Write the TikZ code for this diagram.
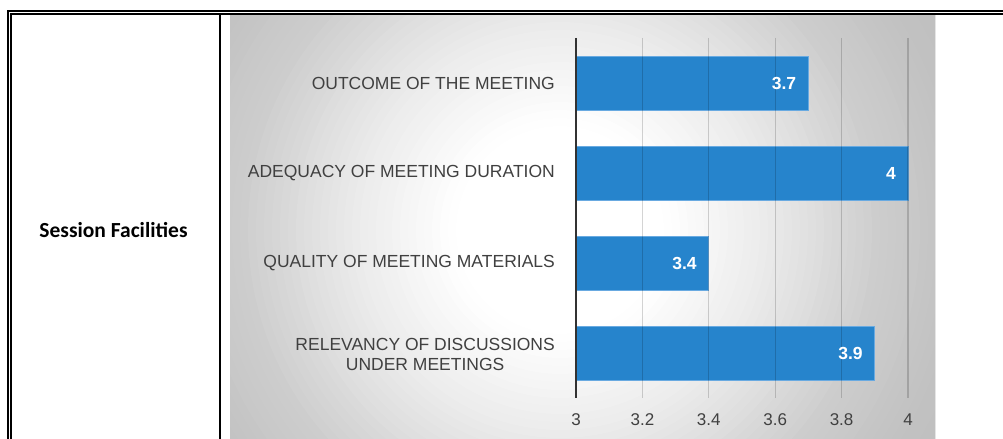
\documentclass[tikz,border=0pt]{standalone}
\usepackage{fontspec}
\setmainfont{Liberation Sans}
\newfontfamily\calib{Carlito}
\definecolor{barblue}{RGB}{38,132,204}
\definecolor{baredge}{RGB}{105,170,225}
\definecolor{txtgray}{RGB}{64,64,64}
\definecolor{axisgray}{RGB}{50,50,50}
\tikzset{
  frameline/.style={line width=2bp, black},
  catlabel/.style={anchor=east, inner sep=0pt, text=txtgray, font=\fontsize{17.5bp}{20bp}\selectfont, align=center},
  vallabel/.style={anchor=east, inner sep=0pt, text=white, font=\fontsize{17.5bp}{20bp}\selectfont\bfseries},
  ticklabel/.style={anchor=center, inner sep=0pt, text=txtgray, font=\fontsize{17bp}{20bp}\selectfont},
  barbox/.style={fill=barblue, draw=baredge, line width=1bp},
  gridline/.style={black, draw opacity=0.17, line width=1.2bp},
  axisline/.style={axisgray, line width=2bp},
}
\begin{document}
\begin{tikzpicture}[x=1bp, y=-1bp]
\useasboundingbox (0,0) rectangle (1003,439);
% chart background: stepped radial gradient
\begin{scope}
  \clip (230,15.5) rectangle (935,440);
  \foreach \r in {520,512,...,8} {
    \pgfmathtruncatemacro\g{\r<=110 ? 255 : (\r<=220 ? 255-(\r-110)*0.2 : (\r<=320 ? 233-(\r-220)*0.27 : (\r<=400 ? 206-(\r-320)*0.15 : (\r<=480 ? 194-(\r-400)*0.06 : 189))))}
    \definecolor{bgstep}{RGB}{\g,\g,\g}
    \fill[bgstep] (560,230) circle[radius=\r bp];
  }
\end{scope}
\draw[black!10, line width=0.8bp] (935,15.5) -- (935,440);
% frame
\draw[frameline] (7.5,441) -- (7.5,11.5) -- (1005,11.5);
\draw[frameline] (10.5,441) -- (10.5,14.5) -- (1005,14.5);
\draw[frameline] (220,14.5) -- (220,441);
\node[inner sep=0pt, font=\calib\fontsize{21.5bp}{24bp}\selectfont\bfseries] (title) at (113.5,230) {Session Facilities};
% bars
\draw[barbox] (576,56.5) rectangle (808.4,110.5);
\draw[barbox] (576,146.5) rectangle (908,200.5);
\draw[barbox] (576,236.5) rectangle (708.8,290.5);
\draw[barbox] (576,326.5) rectangle (874.8,380.5);
% gridlines
\foreach \gx/\nm in {642.4/g32, 708.8/g34, 775.2/g36, 841.6/g38, 908/g40} {
  \coordinate (\nm top) at (\gx,38);
  \coordinate (\nm bot) at (\gx,398);
  \draw[gridline] (\nm top) -- (\nm bot);
}
\coordinate (axtop) at (576,38);
\coordinate (axbot) at (576,398);
\draw[axisline] (axtop) -- (axbot);
% value labels
\node[vallabel] (v1) at (796.4,83.5) {3.7};
\node[vallabel] (v2) at (896,173.5) {4};
\node[vallabel] (v3) at (696.8,263.5) {3.4};
\node[vallabel] (v4) at (862.8,353.5) {3.9};
% category labels
\node[catlabel] (c1) at (555,83.5) {OUTCOME OF THE MEETING};
\node[catlabel] (c2) at (555,173.5) {ADEQUACY OF MEETING DURATION};
\node[catlabel] (c3) at (555,263.5) {QUALITY OF MEETING MATERIALS};
\node[catlabel] (c4) at (555,354) {RELEVANCY OF DISCUSSIONS\\UNDER MEETINGS};
% tick labels
\node[ticklabel] (t0) at (576,420) {3};
\node[ticklabel] (t1) at (642.4,420) {3.2};
\node[ticklabel] (t2) at (708.8,420) {3.4};
\node[ticklabel] (t3) at (775.2,420) {3.6};
\node[ticklabel] (t4) at (841.6,420) {3.8};
\node[ticklabel] (t5) at (908,420) {4};
\end{tikzpicture}
\end{document}
